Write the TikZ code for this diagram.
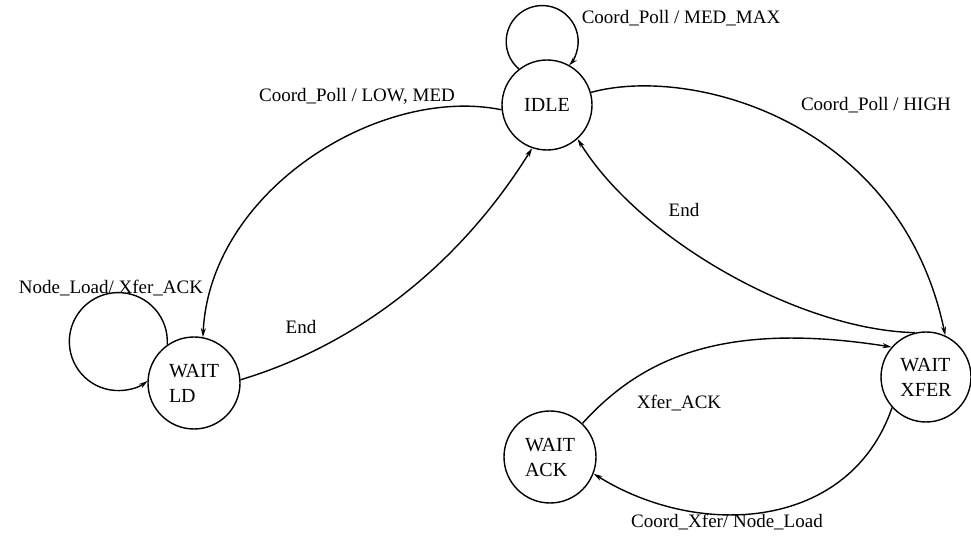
\documentclass[tikz,border=0pt]{standalone}
\usepackage{fontspec}
\setmainfont{LiberationSerif-Regular.ttf}
\newfontfamily\tnr{LiberationSerif-Regular.ttf}
\usetikzlibrary{arrows.meta}
\begin{document}
\begin{tikzpicture}[x=1pt,y=1pt,
  state/.style={draw,circle,line width=1.4pt,minimum size=90pt,inner sep=0pt,align=left,font=\tnr\fontsize{20}{25}\selectfont},
  lbl/.style={anchor=base,inner sep=0pt,font=\tnr\fontsize{19}{22}\selectfont},
  tr/.style={line width=1.4pt,-{Stealth[length=9pt,width=5pt]}}]
\useasboundingbox (0,0) rectangle (971,535);
\node[state] (idle) at (547,430) {IDLE};
\node[state,minimum size=92pt] (ld) at (194,152) {WAIT\\LD};
\node[state] (xfer) at (926,158) {WAIT\\XFER};
\node[state,minimum size=92pt] (ack) at (550,78) {WAIT\\ACK};
% self loops
\draw[tr] (idle.128) arc[start angle=229.6, end angle=-41.6, radius=36];
\draw[tr] (ld.125) arc[start angle=-3.7, end angle=306.7, radius=49];
% transitions
\draw[tr] (idle.186) .. controls (380,450) and (210,345) .. (ld.79);
\draw[tr] (ld.4) .. controls (340,185) and (450,255) .. (idle.251);
\draw[tr] (idle.16) .. controls (690,470) and (900,415) .. (xfer.65);
\draw[tr] (xfer.104) .. controls (800,205) and (640,295) .. (idle.312);
\draw[tr] (ack.46) .. controls (640,175) and (720,215) .. (xfer.139);
\draw[tr] (xfer.222) .. controls (850,5) and (700,-5) .. (ack.339);
% labels
\node[lbl] (l1) at (681,511.5) {Coord\_Poll / MED\_MAX};
\node[lbl] (l2) at (357,433.5) {Coord\_Poll / LOW, MED};
\node[lbl] (l3) at (876,424.5) {Coord\_Poll / HIGH};
\node[lbl] (l4) at (684,318.5) {End};
\node[lbl] (l5) at (111,241.5) {Node\_Load/ Xfer\_ACK};
\node[lbl] (l6) at (301,201.5) {End};
\node[lbl] (l7) at (679,126.5) {Xfer\_ACK};
\node[lbl] (l8) at (727,7) {Coord\_Xfer/ Node\_Load};
\end{tikzpicture}
\end{document}
